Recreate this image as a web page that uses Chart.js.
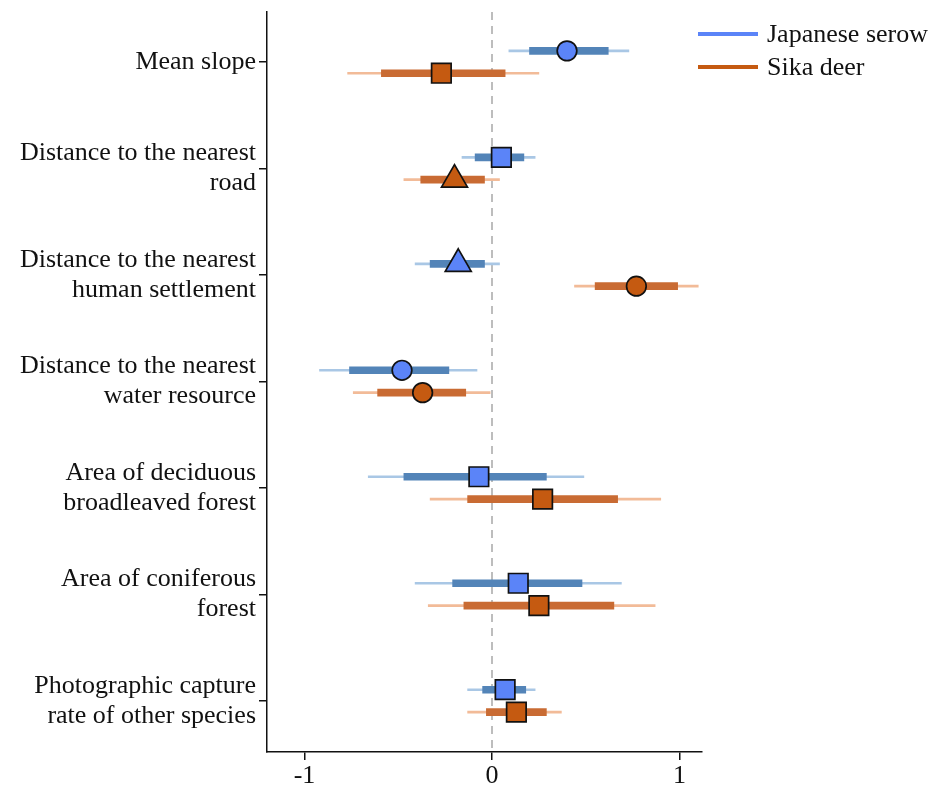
<!DOCTYPE html>
<html>
<head>
<meta charset="utf-8">
<script src="https://cdn.jsdelivr.net/npm/chart.js@4.4.1/dist/chart.umd.min.js"></script>
<style>
  html, body { margin: 0; padding: 0; background: #fff; }
  #wrap { width: 937px; height: 787px; position: relative; }
</style>
</head>
<body>
<div id="wrap"><canvas id="forest"></canvas></div>
<script>
/* ===== Forest plot: habitat covariates for serow and deer ===== */

const categories = [
  ['Mean slope'],
  ['Distance to the nearest', 'road'],
  ['Distance to the nearest', 'human settlement'],
  ['Distance to the nearest', 'water resource'],
  ['Area of deciduous', 'broadleaved forest'],
  ['Area of coniferous', 'forest'],
  ['Photographic capture', 'rate of other species'],
];
const seriesNames = ['Japanese serow', 'Sika deer'];

// point estimates
const serowMean = [0.40, 0.05, -0.18, -0.48, -0.07, 0.14, 0.07];
const deerMean  = [-0.27, -0.20, 0.77, -0.37, 0.27, 0.25, 0.13];
// inner (thick) intervals
const serowInnerLo = [0.20, -0.09, -0.33, -0.76, -0.47, -0.21, -0.05];
const serowInnerHi = [0.62, 0.17, -0.04, -0.23, 0.29, 0.48, 0.18];
const deerInnerLo  = [-0.59, -0.38, 0.55, -0.61, -0.13, -0.15, -0.03];
const deerInnerHi  = [0.07, -0.04, 0.99, -0.14, 0.67, 0.65, 0.29];
// outer (thin) intervals
const serowOuterLo = [0.09, -0.16, -0.41, -0.92, -0.66, -0.41, -0.13];
const serowOuterHi = [0.73, 0.23, 0.04, -0.08, 0.49, 0.69, 0.23];
const deerOuterLo  = [-0.77, -0.47, 0.44, -0.74, -0.33, -0.34, -0.13];
const deerOuterHi  = [0.25, 0.04, 1.10, -0.01, 0.90, 0.87, 0.37];
// marker shapes
const serowShape = ['circle', 'rect', 'triangle', 'circle', 'rect', 'rect', 'rect'];
const deerShape  = ['rect', 'triangle', 'circle', 'circle', 'rect', 'rect', 'rect'];

const xTicks = [-1, 0, 1];

const FONT = "'Liberation Serif', 'Times New Roman', serif";
const OFFSET = 0.105;           // vertical shift of each species within a row
const SHAPE_RADIUS = { circle: 9.8, rect: 13.8, triangle: 15 };

const COLORS = {
  serow: { marker: '#5b84f8', thick: '#5384b8', thin: '#a9c7e5' },
  deer:  { marker: '#c55a11', thick: '#c96b33', thin: '#f2bb98' },
};

const rowY = (i, sign) => i + sign * OFFSET;

function intervalData(lo, hi, sign) {
  return lo.map((v, i) => ({ x: [v, hi[i]], y: rowY(i, sign) }));
}
function pointData(mean, sign) {
  return mean.map((v, i) => ({ x: v, y: rowY(i, sign) }));
}

function barSet(label, data, color, thickness, order) {
  return {
    type: 'bar', label, data,
    backgroundColor: color, borderWidth: 0,
    barThickness: thickness, grouped: false, order,
  };
}
function markerSet(label, data, color, shapes) {
  return {
    type: 'scatter', label, data,
    backgroundColor: color, borderColor: '#111',
    borderWidth: 1.7,
    pointStyle: shapes,
    pointRadius: shapes.map(s => SHAPE_RADIUS[s]),
    pointHoverRadius: shapes.map(s => SHAPE_RADIUS[s]),
    order: 0,
  };
}

const yMin = -0.47, yMax = categories.length - 1 + 0.48;

const datasets = [
  markerSet(seriesNames[0], pointData(serowMean, -1), COLORS.serow.marker, serowShape),
  markerSet(seriesNames[1], pointData(deerMean, 1), COLORS.deer.marker, deerShape),
  barSet('serow inner', intervalData(serowInnerLo, serowInnerHi, -1), COLORS.serow.thick, 7, 1),
  barSet('deer inner', intervalData(deerInnerLo, deerInnerHi, 1), COLORS.deer.thick, 7, 1),
  barSet('serow outer', intervalData(serowOuterLo, serowOuterHi, -1), COLORS.serow.thin, 2, 2),
  barSet('deer outer', intervalData(deerOuterLo, deerOuterHi, 1), COLORS.deer.thin, 2, 2),
  {
    type: 'line', label: 'zero',
    data: [{ x: 0, y: yMin }, { x: 0, y: yMax }],
    borderColor: '#9a9a9a', borderWidth: 1.3, borderDash: [8, 6],
    pointRadius: 0, order: 3,
  },
];

// simple legend drawn to the right of the plot
const sideLegend = {
  id: 'sideLegend',
  afterDraw(chart) {
    const ctx = chart.ctx;
    const items = [
      { text: seriesNames[0], color: COLORS.serow.marker },
      { text: seriesNames[1], color: COLORS.deer.marker },
    ];
    ctx.save();
    ctx.font = `26px ${FONT}`;
    ctx.textBaseline = 'middle';
    items.forEach((it, i) => {
      const y = 34 + i * 33;
      ctx.fillStyle = it.color;
      ctx.fillRect(698, y - 2, 60, 4);
      ctx.fillStyle = '#111';
      ctx.fillText(it.text, 767, y + 1);
    });
    ctx.restore();
  }
};

new Chart(document.getElementById('forest'), {
  type: 'bar',
  data: { datasets },
  options: {
    indexAxis: 'y',
    responsive: true,
    maintainAspectRatio: false,
    animation: false,
    layout: { autoPadding: false, padding: { left: 0, right: 235, top: 12, bottom: 0 } },
    plugins: {
      legend: { display: false },
      tooltip: { enabled: false },
    },
    scales: {
      x: {
        type: 'linear',
        min: -1.2, max: 1.12,
        afterBuildTicks: scale => { scale.ticks = xTicks.map(v => ({ value: v })); },
        afterFit: scale => { scale.height = 35; scale.paddingLeft = 0; scale.paddingRight = 0; },
        border: { display: true, color: '#111', width: 1.5 },
        grid: { display: true, drawOnChartArea: false, drawTicks: true, tickLength: 8, color: '#111', lineWidth: 1.5 },
        ticks: { padding: 1, color: '#111', font: { family: FONT, size: 26 } },
      },
      y: {
        type: 'linear',
        reverse: true,
        offset: false,
        min: yMin, max: yMax,
        afterBuildTicks: scale => { scale.ticks = categories.map((c, i) => ({ value: i })); },
        afterFit: scale => { scale.width = 267; scale.paddingTop = 0; scale.paddingBottom = 0; },
        border: { display: true, color: '#111', width: 1.5 },
        grid: { display: true, offset: false, drawOnChartArea: false, drawTicks: true, tickLength: 8, color: '#111', lineWidth: 1.5 },
        ticks: {
          padding: 3,
          color: '#111',
          font: { family: FONT, size: 26, lineHeight: 1.15 },
          callback: v => categories[v] || '',
        },
      },
    },
  },
  plugins: [sideLegend],
});
</script>
</body>
</html>
